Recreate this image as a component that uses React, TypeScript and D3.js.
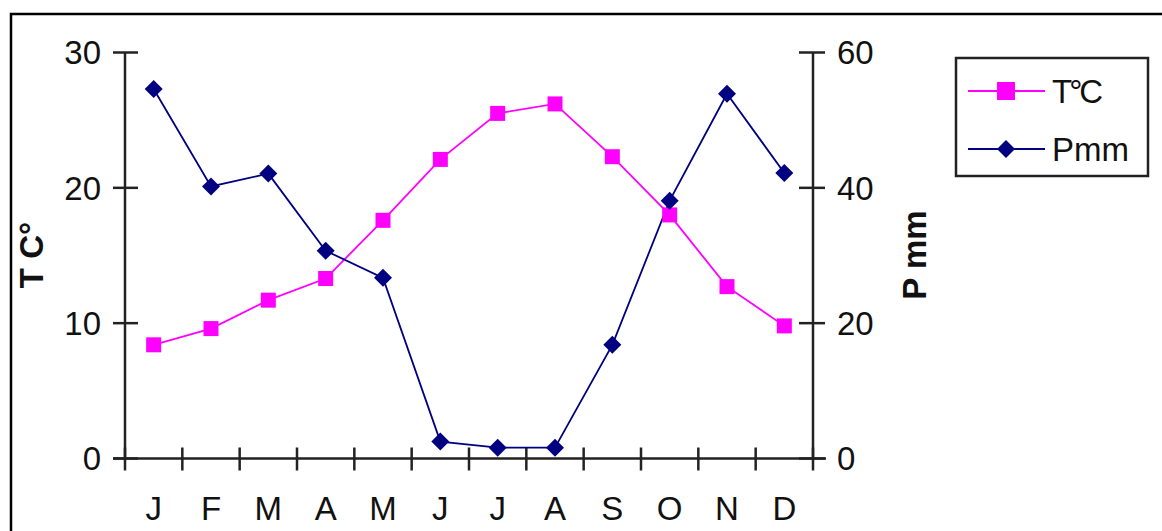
import React from "react";
import * as d3 from "d3";

const months = ["J", "F", "M", "A", "M", "J", "J", "A", "S", "O", "N", "D"];
const tempC = [8.4, 9.6, 11.7, 13.3, 17.6, 22.1, 25.5, 26.2, 22.3, 18.0, 12.7, 9.8];
const precipMm = [54.6, 40.2, 42.1, 30.7, 26.7, 2.5, 1.6, 1.6, 16.8, 38.1, 53.9, 42.2];
const leftTicks = [0, 10, 20, 30];
const rightTicks = [0, 20, 40, 60];

const W = 1162;
const H = 531;
const FONT = "'Liberation Sans', Arial, sans-serif";
const PINK = "#FF00FF";
const NAVY = "#000080";

export default function App() {
  const x0 = 125, x1 = 813, yTop = 52.5, yBot = 458.5;
  const idx = months.map((_, i) => i);
  const xBand = d3.scaleBand<number>().domain(idx).range([x0, x1]).padding(0);
  const xc = (i: number) => (xBand(i) as number) + xBand.bandwidth() / 2;
  const yL = d3.scaleLinear().domain([0, 30]).range([yBot, yTop]);
  const yR = d3.scaleLinear().domain([0, 60]).range([yBot, yTop]);

  const lineT = d3.line<number>().x((_, i) => xc(i)).y((d) => yL(d));
  const lineP = d3.line<number>().x((_, i) => xc(i)).y((d) => yR(d));

  const boundaries = d3.range(0, 13).map((i) => x0 + i * xBand.bandwidth());

  const sq = 15;
  const dm = 9;
  const diamond = (cx: number, cy: number) =>
    `M${cx},${cy - dm}L${cx + dm},${cy}L${cx},${cy + dm}L${cx - dm},${cy}Z`;

  return (
    <svg width={W} height={H} style={{ position: "absolute", left: 0, top: 0, background: "#fff" }}>
      <rect x={0} y={0} width={W} height={H} fill="#fff" />
      {/* outer frame */}
      <rect x={11} y={14} width={W + 10} height={H + 10} fill="none" stroke="#000" strokeWidth={2.5} />

      {/* axes */}
      <g stroke="#222" strokeWidth={2.5}>
        <line x1={x0} y1={yTop} x2={x0} y2={yBot} />
        <line x1={x1} y1={yTop} x2={x1} y2={yBot} />
        <line x1={x0 - 12} y1={yBot} x2={x1 + 13} y2={yBot} />
        {leftTicks.map((t) => (
          <line key={"lt" + t} x1={x0 - 12} x2={x0 + 13} y1={yL(t)} y2={yL(t)} />
        ))}
        {rightTicks.map((t) => (
          <line key={"rt" + t} x1={x1 - 14} x2={x1 + 12} y1={yR(t)} y2={yR(t)} />
        ))}
        {boundaries.map((bx, i) => (
          <line key={"xt" + i} x1={bx} x2={bx} y1={yBot - 11} y2={yBot + 12} />
        ))}
      </g>

      {/* tick labels */}
      <g fontFamily={FONT} fontSize={33} fill="#111">
        {leftTicks.map((t) => (
          <text key={"ll" + t} x={x0 - 24} y={yL(t)} dy="0.36em" textAnchor="end">{t}</text>
        ))}
        {rightTicks.map((t) => (
          <text key={"rl" + t} x={x1 + 24} y={yR(t)} dy="0.36em" textAnchor="start">{t}</text>
        ))}
        {months.map((m, i) => (
          <text key={"m" + i} x={xc(i)} y={520} textAnchor="middle">{m}</text>
        ))}
      </g>

      {/* axis titles */}
      <text transform={`translate(43,255) rotate(-90)`} fontFamily={FONT} fontSize={33} fontWeight="bold" textAnchor="middle" fill="#111">T C°</text>
      <text transform={`translate(926,255) rotate(-90)`} fontFamily={FONT} fontSize={33} fontWeight="bold" textAnchor="middle" fill="#111">P mm</text>

      {/* series */}
      <path d={lineT(tempC) as string} fill="none" stroke={PINK} strokeWidth={1.8} />
      <path d={lineP(precipMm) as string} fill="none" stroke={NAVY} strokeWidth={1.8} />
      {tempC.map((v, i) => (
        <rect key={"t" + i} x={xc(i) - sq / 2} y={yL(v) - sq / 2} width={sq} height={sq} fill={PINK} />
      ))}
      {precipMm.map((v, i) => (
        <path key={"p" + i} d={diamond(xc(i), yR(v))} fill={NAVY} />
      ))}

      {/* legend */}
      <rect x={956} y={58} width={192} height={118} fill="#fff" stroke="#222" strokeWidth={2.5} />
      <line x1={968} x2={1045} y1={91} y2={91} stroke={PINK} strokeWidth={1.8} />
      <rect x={1006 - 9} y={91 - 9} width={18} height={18} fill={PINK} />
      <text x={1052} y={103} fontFamily={FONT} fontSize={33} fill="#111" letterSpacing={-3}>T°C</text>
      <line x1={968} x2={1045} y1={149} y2={149} stroke={NAVY} strokeWidth={1.8} />
      <path d={diamond(1006, 149)} fill={NAVY} />
      <text x={1052} y={161} fontFamily={FONT} fontSize={33} fill="#111">Pmm</text>
    </svg>
  );
}
